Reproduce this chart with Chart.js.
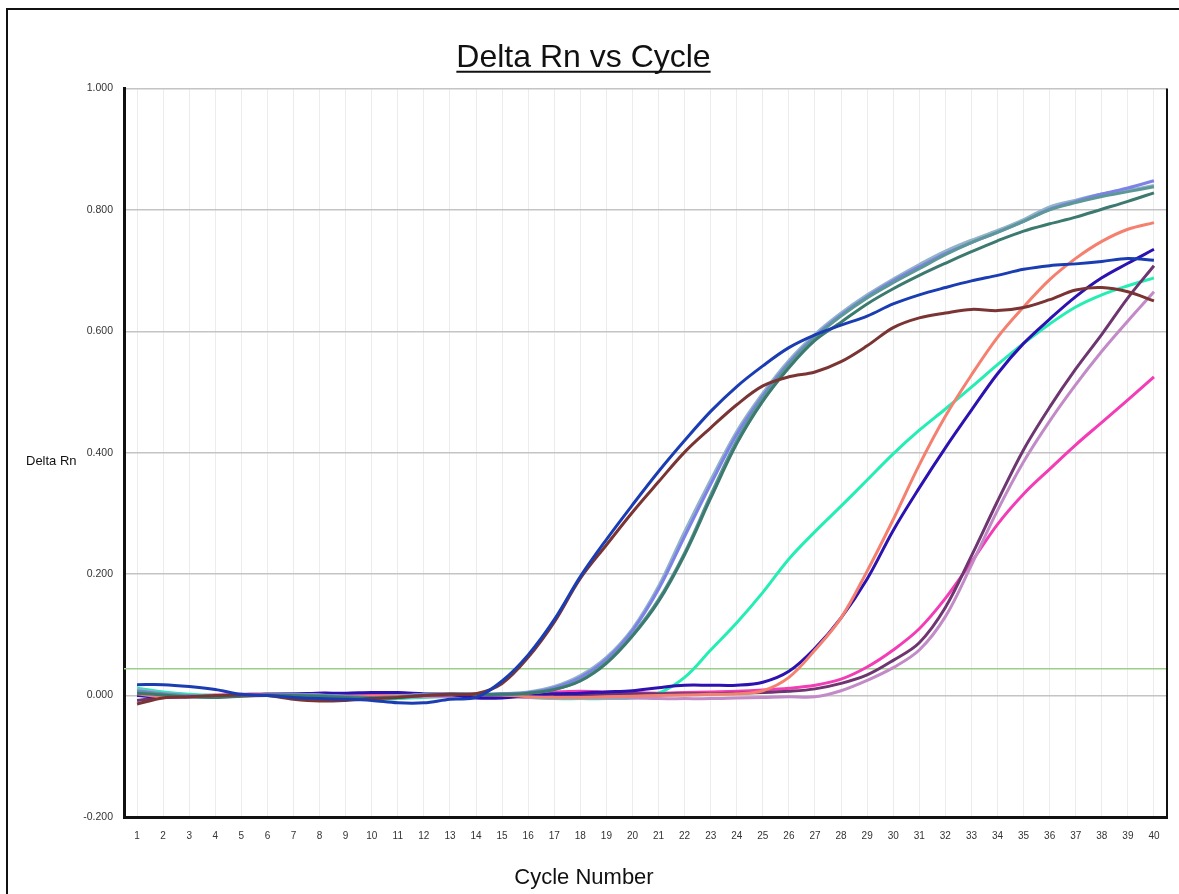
<!DOCTYPE html>
<html>
<head>
<meta charset="utf-8">
<script src="https://cdn.jsdelivr.net/npm/chart.js@4.4.1/dist/chart.umd.min.js"></script>
<style>
  html, body { margin: 0; padding: 0; background: #fff; overflow: hidden; }
  #wrap { position: relative; width: 1179px; height: 894px; }
  #frame { position: absolute; left: 6px; top: 8px; width: 1300px; height: 1000px; border: 2px solid #111; box-sizing: border-box; }
  .axtitle { position: absolute; font-family: "Liberation Sans", Arial, sans-serif; color: #111; white-space: nowrap; }
  #ytitle { left: 26px; top: 453px; font-size: 13px; }
  #xtitle { left: 0; width: 1168px; text-align: center; top: 864px; font-size: 22px; }
  canvas { position: absolute; left: 0; top: 0; }
</style>
</head>
<body>
<div id="wrap">
  <div id="frame"></div>
  <canvas id="rnChart" width="1179" height="894"></canvas>
  <div id="ytitle" class="axtitle">Delta Rn</div>
  <div id="xtitle" class="axtitle">Cycle Number</div>
</div>
<script>
// Ciclos (eixo x)
const cycles = ["1","2","3","4","5","6","7","8","9","10","11","12","13","14","15","16","17","18","19","20",
  "21","22","23","24","25","26","27","28","29","30","31","32","33","34","35","36","37","38","39","40"];

// Marcas do eixo y
const yTicks = [-0.2, 0.0, 0.2, 0.4, 0.6, 0.8, 1.0];

// Linha de threshold
const threshold = 0.044;

// Curvas de amplificação (Delta Rn por ciclo)
const darkBlue = [0.018,0.018,0.015,0.010,0.002,0.000,-0.003,-0.005,-0.006,-0.008,-0.012,-0.012,-0.006,-0.003,0.024,0.067,0.125,0.196,0.257,0.314,0.369,0.420,0.468,0.509,0.543,0.573,0.594,0.610,0.625,0.645,0.660,0.672,0.683,0.692,0.702,0.708,0.711,0.715,0.720,0.717];
const brown = [-0.014,-0.004,-0.002,0.000,0.001,0.000,-0.006,-0.009,-0.008,-0.005,-0.003,0.000,0.002,0.003,0.020,0.063,0.121,0.193,0.248,0.302,0.352,0.401,0.441,0.479,0.510,0.525,0.533,0.550,0.576,0.606,0.622,0.630,0.636,0.634,0.639,0.652,0.668,0.672,0.665,0.650];
const lightSteel = [0.010,0.004,0.000,-0.002,0.000,0.002,0.002,0.001,-0.002,-0.004,-0.002,0.002,0.003,0.002,0.003,0.006,0.015,0.033,0.063,0.110,0.180,0.270,0.355,0.435,0.498,0.552,0.595,0.630,0.660,0.686,0.710,0.732,0.750,0.766,0.784,0.805,0.816,0.826,0.832,0.840];
const tealGray = [0.006,0.002,-0.001,-0.002,0.000,0.001,0.001,0.000,-0.002,-0.003,-0.002,0.001,0.002,0.002,0.002,0.004,0.010,0.025,0.055,0.100,0.158,0.235,0.330,0.420,0.490,0.545,0.590,0.625,0.655,0.680,0.703,0.726,0.746,0.763,0.781,0.800,0.812,0.822,0.830,0.838];
const periwinkle = [0.008,0.003,0.000,-0.002,0.000,0.002,0.002,0.001,-0.001,-0.003,-0.002,0.002,0.003,0.002,0.003,0.005,0.013,0.030,0.060,0.107,0.175,0.262,0.348,0.430,0.494,0.548,0.592,0.627,0.657,0.683,0.706,0.728,0.746,0.763,0.781,0.801,0.814,0.826,0.836,0.848];
const darkTeal = [0.004,0.001,-0.002,-0.003,-0.001,0.001,0.000,-0.001,-0.003,-0.004,-0.003,0.000,0.002,0.002,0.002,0.004,0.010,0.024,0.053,0.098,0.155,0.232,0.325,0.415,0.485,0.540,0.585,0.615,0.645,0.670,0.692,0.712,0.731,0.749,0.765,0.777,0.788,0.801,0.814,0.828];
const aquamarine = [0.012,0.006,0.002,0.000,0.000,0.000,-0.002,-0.004,-0.005,-0.006,-0.005,-0.003,-0.001,0.000,0.000,-0.003,-0.005,-0.005,-0.005,-0.004,0.004,0.030,0.075,0.120,0.170,0.225,0.270,0.312,0.355,0.398,0.437,0.472,0.508,0.545,0.580,0.612,0.640,0.660,0.675,0.688];
const salmon = [0.003,-0.002,-0.002,-0.001,0.000,0.002,0.001,0.000,-0.001,-0.001,0.000,0.001,0.002,0.002,0.001,-0.002,-0.003,-0.003,-0.002,-0.001,0.000,0.001,0.002,0.003,0.008,0.030,0.075,0.128,0.205,0.290,0.380,0.460,0.528,0.590,0.640,0.685,0.720,0.748,0.768,0.779];
const indigo = [0.000,-0.003,-0.002,-0.001,0.000,0.002,0.003,0.004,0.004,0.005,0.005,0.003,0.002,-0.004,-0.004,0.000,0.003,0.004,0.006,0.008,0.013,0.017,0.017,0.017,0.022,0.040,0.078,0.128,0.192,0.272,0.342,0.408,0.470,0.530,0.580,0.620,0.657,0.688,0.712,0.735];
const darkPurple = [-0.008,-0.003,-0.002,-0.001,0.000,0.001,0.000,-0.002,-0.003,-0.003,-0.002,0.000,0.001,0.001,0.001,0.000,0.000,0.001,0.002,0.003,0.003,0.003,0.003,0.004,0.005,0.007,0.011,0.020,0.034,0.058,0.087,0.145,0.230,0.320,0.405,0.475,0.538,0.595,0.655,0.708];
const orchid = [0.002,-0.001,-0.002,-0.002,-0.001,0.000,0.000,-0.001,-0.002,-0.003,-0.003,-0.002,-0.002,-0.002,-0.002,-0.003,-0.004,-0.004,-0.004,-0.004,-0.005,-0.005,-0.005,-0.004,-0.003,-0.002,-0.002,0.008,0.025,0.046,0.075,0.130,0.215,0.305,0.385,0.452,0.512,0.567,0.617,0.665];
const magenta = [0.003,0.000,0.000,0.001,0.002,0.003,0.003,0.004,0.003,0.002,0.001,0.002,0.003,0.002,0.002,0.004,0.006,0.007,0.006,0.005,0.004,0.005,0.006,0.007,0.009,0.012,0.017,0.027,0.047,0.075,0.110,0.160,0.220,0.282,0.332,0.373,0.413,0.450,0.487,0.525];

const series = [
  { name: "A", data: darkBlue, color: "#1b3db3" },
  { name: "B", data: brown, color: "#7a3434" },
  { name: "C", data: darkTeal, color: "#3c7a70" },
  { name: "D", data: tealGray, color: "#5c9898" },
  { name: "E", data: periwinkle, color: "#7d82e6" },
  { name: "F", data: lightSteel, color: "#92b4c8" },
  { name: "G", data: salmon, color: "#f5806f" },
  { name: "H", data: indigo, color: "#2c12b0" },
  { name: "I", data: darkPurple, color: "#6d3670" },
  { name: "J", data: orchid, color: "#c28bc8" },
  { name: "K", data: aquamarine, color: "#24eeb4" },
  { name: "L", data: magenta, color: "#f23db6" }
];

const fontFamily = '"Liberation Sans", Arial, sans-serif';

// Plugin: linha de threshold, borda direita e sublinhado do título
const extras = {
  id: "extras",
  beforeDatasetsDraw(chart) {
    const { ctx, chartArea, scales } = chart;
    const y = scales.y.getPixelForValue(threshold);
    ctx.save();
    ctx.strokeStyle = "#9ccf8c";
    ctx.lineWidth = 1.5;
    ctx.beginPath();
    ctx.moveTo(chartArea.left, y);
    ctx.lineTo(chartArea.right, y);
    ctx.stroke();
    ctx.restore();
  },
  afterDraw(chart) {
    const { ctx, chartArea } = chart;
    ctx.save();
    ctx.strokeStyle = "#111";
    ctx.lineWidth = 2;
    ctx.beginPath();
    ctx.moveTo(chartArea.right, chartArea.top);
    ctx.lineTo(chartArea.right, chartArea.bottom);
    ctx.stroke();
    // sublinhado do título
    const t = chart.titleBlock;
    const opts = chart.options.plugins.title;
    ctx.font = opts.font.size + "px " + fontFamily;
    const w = ctx.measureText(opts.text).width;
    const cxTitle = (t.left + t.right) / 2;
    const yLine = t.top + opts.padding.top + opts.font.size * 1.2 / 2 + opts.font.size * 0.42;
    ctx.lineWidth = 2;
    ctx.beginPath();
    ctx.moveTo(cxTitle - w / 2, yLine);
    ctx.lineTo(cxTitle + w / 2, yLine);
    ctx.stroke();
    ctx.restore();
  }
};

const ctx = document.getElementById("rnChart").getContext("2d");
new Chart(ctx, {
  type: "line",
  data: {
    labels: cycles,
    datasets: series.map((s) => ({
      label: s.name,
      data: s.data,
      borderColor: s.color,
      borderWidth: 3,
      pointRadius: 0,
      fill: false,
      tension: 0.35
    }))
  },
  options: {
    responsive: false,
    animation: false,
    layout: { padding: { left: 0, right: 12, top: 0, bottom: 0 } },
    plugins: {
      legend: { display: false },
      tooltip: { enabled: false },
      title: {
        display: true,
        text: "Delta Rn vs Cycle",
        color: "#111",
        font: { family: fontFamily, size: 32, weight: "normal" },
        padding: { top: 39, bottom: 11 }
      }
    },
    scales: {
      x: {
        offset: true,
        grid: { color: "#ececec", lineWidth: 1, drawTicks: false },
        border: { display: true, color: "#111", width: 3 },
        ticks: { color: "#333", font: { family: fontFamily, size: 10 }, padding: 13, maxRotation: 0, autoSkip: false },
        afterFit(scale) { scale.height = 77; }
      },
      y: {
        min: -0.2,
        max: 1.0,
        afterBuildTicks(scale) { scale.ticks = yTicks.map((v) => ({ value: v })); },
        grid: { color: "#c4c4c4", lineWidth: 1.5, drawTicks: false },
        border: { display: true, color: "#111", width: 3 },
        ticks: {
          color: "#333",
          font: { family: fontFamily, size: 10.5 },
          padding: 11,
          callback: (v) => Number(v).toFixed(3)
        },
        afterFit(scale) { scale.width = 124; }
      }
    }
  },
  plugins: [extras]
});
</script>
</body>
</html>
